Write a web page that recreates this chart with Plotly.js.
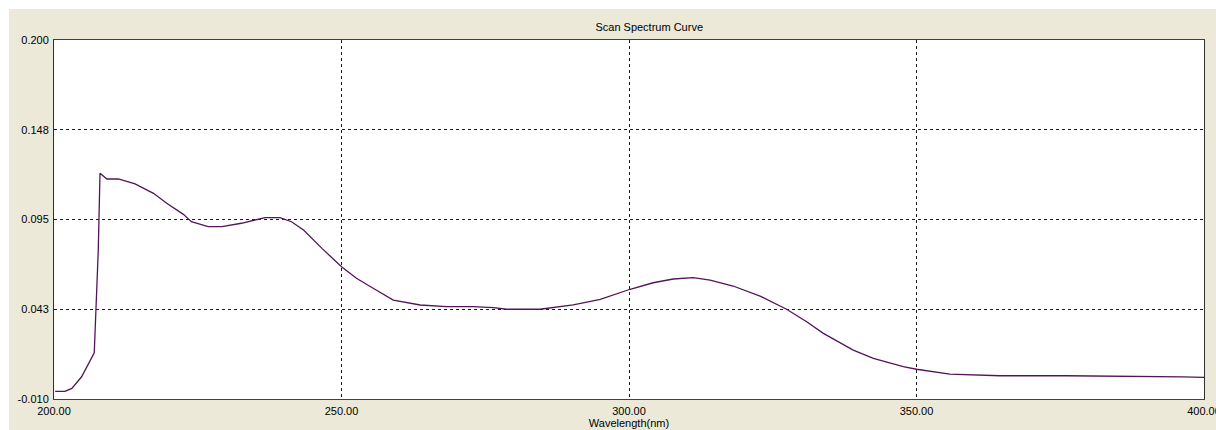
<!DOCTYPE html>
<html>
<head>
<meta charset="utf-8">
<script src="https://cdn.plot.ly/plotly-3.0.1.min.js"></script>
<style>
html,body{margin:0;padding:0;background:#ffffff;width:1216px;height:430px;overflow:hidden;}
#chart{position:absolute;left:9px;top:9px;width:1207px;height:421px;}
</style>
</head>
<body>
<div id="chart"></div>
<script>
// Wavelength (nm) and absorbance
const wavelength = [200.2, 201.9, 203.1, 204.8, 207.0, 207.3, 207.7, 208.0, 209.2, 211.2, 214.1, 217.3, 219.6, 222.5, 223.9, 226.8, 229.2, 232.6, 236.7, 239.3, 241.3, 243.4, 246.6, 250.0, 252.6, 255.5, 259.0, 263.7, 268.3, 272.9, 276.4, 278.7, 284.5, 290.3, 295.0, 300.2, 304.2, 307.7, 311.2, 314.1, 318.1, 322.8, 327.4, 330.9, 333.8, 339.0, 342.5, 347.7, 350.0, 355.8, 364.5, 376.1, 387.7, 396.3, 400.0];
const absorbance = [-0.0055, -0.0055, -0.0038, 0.003, 0.017, 0.042, 0.077, 0.122, 0.1187, 0.1187, 0.1158, 0.1103, 0.1045, 0.098, 0.0937, 0.0908, 0.0908, 0.0928, 0.0961, 0.0961, 0.0937, 0.0889, 0.0781, 0.0674, 0.0606, 0.0548, 0.0479, 0.045, 0.044, 0.044, 0.0434, 0.0425, 0.0425, 0.045, 0.0483, 0.0542, 0.058, 0.0602, 0.061, 0.0596, 0.0561, 0.0502, 0.0425, 0.0352, 0.0284, 0.0186, 0.0138, 0.0089, 0.0074, 0.0046, 0.0036, 0.0036, 0.0034, 0.003, 0.0027];

const xTickVals = [200, 250, 300, 350, 400];
const xTickText = ["200.00", "250.00", "300.00", "350.00", "400.00"];
const yTickVals = [-0.010, 0.0425, 0.095, 0.1475, 0.200];
const yTickText = ["-0.010", "0.043", "0.095", "0.148", "0.200"];

const font = {family: "Liberation Sans, Arial, sans-serif", size: 11, color: "#000000"};

const trace = {
  x: wavelength,
  y: absorbance,
  type: "scatter",
  mode: "lines",
  line: {color: "#54145a", width: 1.3},
  hoverinfo: "x+y"
};

const layout = {
  width: 1207,
  height: 421,
  paper_bgcolor: "#ECE9D8",
  plot_bgcolor: "#FFFFFF",
  margin: {l: 45, r: 12, t: 31, b: 31},
  showlegend: false,
  font: font,
  title: {
    text: "Scan Spectrum Curve",
    font: {family: "Liberation Sans, Arial, sans-serif", size: 11, color: "#000000"},
    x: 0.5176, xref: "paper", xanchor: "center",
    y: 1 - 18 / 421, yref: "container", yanchor: "middle"
  },
  xaxis: {
    range: [200, 400],
    tickmode: "array",
    tickvals: xTickVals,
    ticktext: xTickText,
    ticks: "",
    showgrid: true,
    gridcolor: "#1a1a1a",
    gridwidth: 1,
    griddash: "3px,3px",
    showline: true,
    linecolor: "#404040",
    linewidth: 1,
    mirror: true,
    zeroline: false,
    tickfont: font,
    ticklabelstandoff: 2,
    ticklabeloverflow: "allow",
    title: {text: "Wavelength(nm)", font: font, standoff: 2}
  },
  yaxis: {
    range: [-0.010, 0.200],
    tickmode: "array",
    tickvals: yTickVals,
    ticktext: yTickText,
    ticks: "",
    showgrid: true,
    gridcolor: "#1a1a1a",
    gridwidth: 1,
    griddash: "3px,3px",
    showline: true,
    linecolor: "#303030",
    linewidth: 1,
    mirror: true,
    zeroline: false,
    tickfont: font,
    ticklabelstandoff: 2
  }
};

Plotly.newPlot("chart", [trace], layout, {displayModeBar: false, staticPlot: true});
</script>
</body>
</html>
